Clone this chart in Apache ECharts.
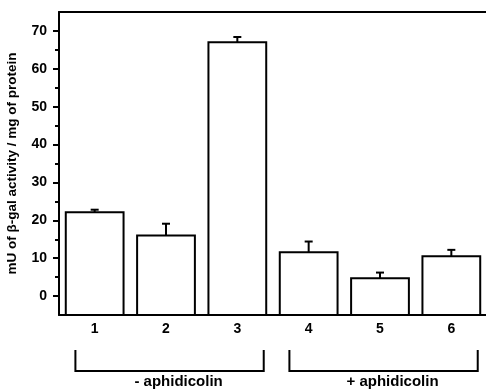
<!DOCTYPE html>
<html>
<head>
<meta charset="utf-8">
<script src="https://cdn.jsdelivr.net/npm/echarts@6/dist/echarts.min.js"></script>
<style>html,body{margin:0;padding:0;background:#fff}#c{width:486px;height:390px}</style>
</head>
<body>
<div id="c"></div>
<script>
const categories = ['1', '2', '3', '4', '5', '6'];
const values = [22.1, 16.0, 67.0, 11.6, 4.7, 10.5];
const errorTops = [22.8, 19.1, 68.4, 14.4, 6.2, 12.2];
const yLabelValues = [0, 10, 20, 30, 40, 50, 60, 70];
const yMinorTickValues = [5, 15, 25, 35, 45, 55, 65];
const groups = [
  { label: '- aphidicolin', from: 0, to: 2 },
  { label: '+ aphidicolin', from: 3, to: 5 }
];
const yMin = -5, yMax = 75;

const chart = echarts.init(document.getElementById('c'), null, { renderer: 'canvas' });
const font = 'Liberation Sans, Arial, sans-serif';

chart.setOption({
  animation: false,
  backgroundColor: '#fff',
  grid: { left: 59, top: 12, width: 428, bottom: 75, containLabel: false, outerBoundsMode: 'none' },
  xAxis: [
    {
      type: 'category', data: categories, position: 'bottom',
      axisLine: { show: true, onZero: false, lineStyle: { color: '#000', width: 2 } },
      axisTick: { show: false },
      axisLabel: { color: '#000', fontWeight: 'bold', fontSize: 14, fontFamily: font, margin: 7 }
    },
    {
      type: 'category', data: categories, position: 'top',
      axisLine: { show: true, onZero: false, lineStyle: { color: '#000', width: 2 } },
      axisTick: { show: false }, axisLabel: { show: false }
    }
  ],
  yAxis: [
    {
      type: 'value', min: yMin, max: yMax,
      name: 'mU of β-gal activity / mg of protein',
      nameLocation: 'middle', nameGap: 40, nameRotate: 90,
      nameTextStyle: { color: '#000', fontWeight: 'bold', fontSize: 13.5, fontFamily: font },
      axisLine: { show: true, onZero: false, lineStyle: { color: '#000', width: 2 } },
      axisTick: { show: true, customValues: yLabelValues, length: 6, lineStyle: { color: '#000', width: 2 } },
      axisLabel: { customValues: yLabelValues, color: '#000', fontWeight: 'bold', fontSize: 14, fontFamily: font, margin: 12 },
      splitLine: { show: false }
    },
    {
      type: 'value', min: yMin, max: yMax, position: 'left',
      axisLine: { show: false, onZero: false },
      axisTick: { show: true, customValues: yMinorTickValues, length: 4, lineStyle: { color: '#000', width: 2 } },
      axisLabel: { show: false },
      splitLine: { show: false }
    }
  ],
  series: [
    {
      type: 'custom', name: 'bars',
      data: values.map((v, i) => [i, v]),
      renderItem: function (params, api) {
        const i = api.value(0), v = api.value(1);
        const top = api.coord([i, v]);
        const base = api.coord([i, yMin]);
        const band = api.size([1, 0])[0];
        const w = band * 0.81;
        return {
          type: 'rect',
          shape: { x: top[0] - w / 2, y: top[1], width: w, height: base[1] - top[1] },
          style: { fill: '#fff', stroke: '#000', lineWidth: 2 }
        };
      }
    },
    {
      type: 'custom', name: 'errors',
      data: values.map((v, i) => [i, v, errorTops[i]]),
      z: 3,
      renderItem: function (params, api) {
        const i = api.value(0);
        const p0 = api.coord([i, api.value(1)]);
        const p1 = api.coord([i, api.value(2)]);
        const cap = 4;
        return {
          type: 'group',
          children: [
            { type: 'line', shape: { x1: p0[0], y1: p0[1], x2: p1[0], y2: p1[1] }, style: { stroke: '#000', lineWidth: 2 } },
            { type: 'line', shape: { x1: p1[0] - cap, y1: p1[1], x2: p1[0] + cap, y2: p1[1] }, style: { stroke: '#000', lineWidth: 2 } }
          ]
        };
      }
    },
    {
      type: 'custom', name: 'groups', clip: false,
      data: groups.map(g => [g.from, g.to]),
      renderItem: function (params, api) {
        const g = groups[params.dataIndex];
        const band = api.size([1, 0])[0];
        const a = api.coord([api.value(0), yMin]);
        const b = api.coord([api.value(1), yMin]);
        const x1 = a[0] - band * 0.27;
        const x2 = b[0] + band * 0.37;
        const yTop = a[1] + 35, yBot = a[1] + 56;
        return {
          type: 'group',
          children: [
            { type: 'polyline', shape: { points: [[x1, yTop], [x1, yBot], [x2, yBot], [x2, yTop]] }, style: { stroke: '#000', lineWidth: 2, fill: null } },
            { type: 'text', style: { text: g.label, x: (x1 + x2) / 2 + 9, y: yBot + 11, align: 'center', verticalAlign: 'middle', fill: '#000', font: 'bold 15px ' + font } }
          ]
        };
      }
    }
  ]
});
</script>
</body>
</html>
